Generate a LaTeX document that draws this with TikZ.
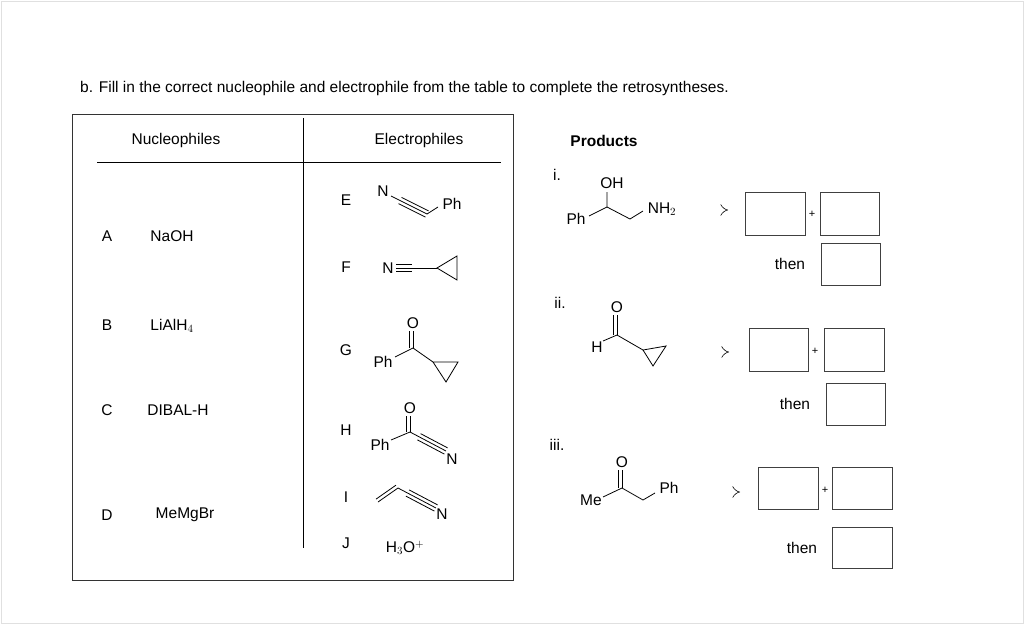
\documentclass[tikz,border=0pt]{standalone}
\usepackage{fontspec}
\setmainfont{Liberation Sans}
\usetikzlibrary{calc,arrows.meta}
\begin{document}
\begin{tikzpicture}[x=1pt,y=-1pt,
  t/.style={inner sep=0pt,font=\fontsize{15.5}{18}\selectfont},
  bond/.style={line width=0.8pt},
  box/.style={draw=black!75,line width=1pt},
  retro/.style={double,double distance=3.5pt,line width=0.6pt,-{Implies}}]
\useasboundingbox (0,0) rectangle (1024,624);
\draw[black!12] (1,1) rectangle (1023,623);
\newcommand{\tb}[2]{\draw[bond] (#1)--(#2);
  \draw[bond] ($(#1)!0.25!(#2)!3.5pt!90:(#2)$)--($(#2)!3.5pt!-90:(#1)$);
  \draw[bond] ($(#1)!0.25!(#2)!3.5pt!-90:(#2)$)--($(#2)!3.5pt!90:(#1)$);}
\newcommand{\db}[2]{\draw[bond] (#1)--(#2);
  \draw[bond] ($(#1)!3.5pt!90:(#2)$)--($(#2)!3.5pt!-90:(#1)$);}
\node[t,anchor=west] (title) at (80,88) {b. Fill in the correct nucleophile and electrophile from the table to complete the retrosyntheses.};
% table
\draw[black!80,line width=0.9pt] (72,114) rectangle (513,580);
\draw[line width=0.8pt] (97,162)--(501,162);
\draw[line width=0.8pt] (303,118)--(303,548);
\node[t] (nh) at (176,140) {Nucleophiles};
\node[t] (eh) at (419,140) {Electrophiles};
\node[inner sep=0pt,font=\fontsize{15.5}{18}\selectfont\bfseries] (ph) at (604,141) {Products};
\node[t] (A) at (107,236) {A}; \node[t] (na) at (172,236) {NaOH};
\node[t] (B) at (107,325) {B}; \node[t] (nb) at (172,326) {LiAlH$_4$};
\node[t] (C) at (107,410) {C}; \node[t] (nc) at (178,410) {DIBAL-H};
\node[t] (D) at (107,515) {D}; \node[t] (nd) at (185,515) {MeMgBr};
% E
\node[t] (E) at (346,200) {E};
\node[t] (eN) at (383,191) {N};
\coordinate (e1) at (391,196); \coordinate (e2) at (427,214); \coordinate (e3) at (438,207);
\tb{e1}{e2} \draw[bond] (e2)--(e3);
\node[t] (ePh) at (452,204) {Ph};
% F
\node[t] (F) at (346,267) {F};
\node[t] (fN) at (388,268) {N};
\coordinate (f1) at (396,268); \coordinate (f2) at (437,268);
\draw[bond] (f1)--(f2); \draw[bond] (396,264.5)--(412,264.5); \draw[bond] (396,271.5)--(412,271.5);
\draw[bond] (437,268)--(457,256)--(457,280)--cycle;
% G
\node[t] (G) at (346,350) {G};
\node[t] (gO) at (413,323) {O};
\coordinate (g0) at (413,331); \coordinate (gc) at (413,348);
\db{gc}{g0}
\node[t] (gPh) at (383,362) {Ph};
\draw[bond] (395,357)--(gc)--(433,362);
\draw[bond] (433,362)--(458,362)--(446,382)--cycle;
% H
\node[t] (H) at (346,430) {H};
\node[t] (hO) at (410,408) {O};
\coordinate (h0) at (410,416); \coordinate (hc) at (410,432);
\db{hc}{h0}
\node[t] (hPh) at (380,445) {Ph};
\draw[bond] (391,440)--(hc);
\coordinate (h2) at (446,451);
\tb{hc}{h2}
\node[t] (hN) at (452,459) {N};
% I
\node[t] (I) at (346,497) {I};
\coordinate (i1) at (378,502); \coordinate (i2) at (398,488); \coordinate (i3) at (436,508);
\db{i1}{i2}
\tb{i2}{i3}
\node[t] (iN) at (442,514) {N};
% J
\node[t] (J) at (346,543) {J};
\node[t] (jH) at (405,548) {H$_3$O$^+$};
% products i
\node[t] (r1) at (557,175) {i.};
\node[t] (p1OH) at (612,183) {OH};
\node[t] (p1Ph) at (576,219) {Ph};
\node[t] (p1N) at (662,209) {NH$_2$};
\draw[bond] (589,216)--(607,207)--(607,192);
\draw[bond] (607,207)--(630,219)--(643,211);
\coordinate (a1s) at (684,210); \coordinate (a1e) at (728,210);
\draw[retro] (a1s)--(a1e);
\draw[box] (745,192) rectangle (805,235);
\draw[box] (820,192) rectangle (879,235);
\node[inner sep=0pt,font=\fontsize{11}{12}\selectfont] (p1p) at (812,214) {+};
\node[t] (p1t) at (790,264) {then};
\draw[box] (821,243) rectangle (880,285);
% products ii
\node[t] (r2) at (560,303) {ii.};
\node[t] (p2O) at (617,307) {O};
\coordinate (q0) at (617,315); \coordinate (qc) at (617,335);
\db{qc}{q0}
\node[t] (p2H) at (597,347) {H};
\draw[bond] (603,341)--(qc)--(643,350);
\draw[bond] (643,350)--(666,346)--(653,366)--cycle;
\coordinate (a2s) at (687,352); \coordinate (a2e) at (729,352);
\draw[retro] (a2s)--(a2e);
\draw[box] (749,328) rectangle (808,371);
\draw[box] (824,328) rectangle (884,371);
\node[inner sep=0pt,font=\fontsize{11}{12}\selectfont] (p2p) at (815,351) {+};
\node[t] (p2t) at (795,404) {then};
\draw[box] (826,383) rectangle (885,425);
% products iii
\node[t] (r3) at (557,445) {iii.};
\node[t] (p3O) at (622,462) {O};
\coordinate (s0) at (622,470); \coordinate (sc) at (622,488);
\db{sc}{s0}
\node[t] (p3Me) at (591,500) {Me};
\node[t] (p3Ph) at (669,488) {Ph};
\draw[bond] (603,497)--(sc)--(643,500)--(655,493);
\coordinate (a3s) at (698,492); \coordinate (a3e) at (740,492);
\draw[retro] (a3s)--(a3e);
\draw[box] (758,467) rectangle (818,509);
\draw[box] (832,467) rectangle (892,509);
\node[inner sep=0pt,font=\fontsize{11}{12}\selectfont] (p3p) at (825,490) {+};
\node[t] (p3t) at (802,548) {then};
\draw[box] (832,527) rectangle (892,568);
\end{tikzpicture}
\end{document}
